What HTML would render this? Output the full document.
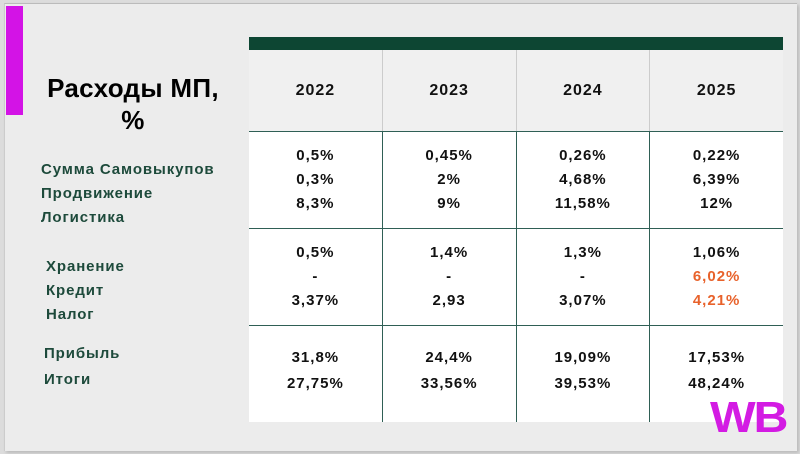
<!DOCTYPE html>
<html><head><meta charset="utf-8"><style>
*{margin:0;padding:0;box-sizing:border-box}
body{width:800px;height:454px;background:#dcdcdc;position:relative;overflow:hidden;font-family:"Liberation Sans","DejaVu Sans",sans-serif}
.slide{position:absolute;left:4px;top:3px;width:793px;height:448px;background:#ececec;border-top:1px solid #bbb;border-left:1px solid #ccc;box-shadow:2px 2px 3px #bbb}
.abs{position:absolute}
.mag{left:6px;top:6px;width:17px;height:109px;background:#d313e6}
.title{left:20px;top:72px;width:226px;text-align:center;font-weight:bold;font-size:26px;letter-spacing:0.3px;line-height:32px;color:#000}
.lbl{color:#1d4a3b;font-weight:bold;font-size:15px;letter-spacing:0.9px;line-height:24px;white-space:nowrap}
.tbl{left:249px;top:37px;width:534px}
.bar{height:13px;background:#0d4633}
.row{display:flex;border-bottom:1px solid #2f5f55}
.row>div{flex:1;border-left:1px solid #2f5f55;display:flex;flex-direction:column;align-items:center;justify-content:center;font-weight:bold;font-size:15px;letter-spacing:1px;line-height:24px;color:#111}
.row>div:first-child{border-left:none}
.hdr{background:#f0f0f0}
.hdr>div{font-size:16px;border-left:1px solid #ccc}
.w{background:#fff}
.o{color:#e8622b}
.wb{left:710px;top:393px;font-size:44px;font-weight:bold;color:#d31be3;letter-spacing:-2px;transform:scaleX(1.1);transform-origin:left}
</style></head><body>
<div class="slide"></div>
<div class="abs mag"></div>
<div class="abs title">Расходы МП,<br>%</div>
<div class="abs lbl" style="left:41px;top:158px">Сумма Самовыкупов<br>Продвижение<br>Логистика</div>
<div class="abs lbl" style="left:46px;top:255px">Хранение<br>Кредит<br>Налог</div>
<div class="abs lbl" style="left:44px;top:341px;line-height:26px">Прибыль<br>Итоги</div>
<div class="abs tbl">
<div class="bar"></div>
<div class="row hdr" style="height:82px"><div>2022</div><div>2023</div><div>2024</div><div>2025</div></div>
<div class="row w" style="height:97px"><div><span>0,5%</span><span>0,3%</span><span>8,3%</span></div><div><span>0,45%</span><span>2%</span><span>9%</span></div><div><span>0,26%</span><span>4,68%</span><span>11,58%</span></div><div><span>0,22%</span><span>6,39%</span><span>12%</span></div></div>
<div class="row w" style="height:97px"><div><span>0,5%</span><span>-</span><span>3,37%</span></div><div><span>1,4%</span><span>-</span><span>2,93</span></div><div><span>1,3%</span><span>-</span><span>3,07%</span></div><div><span>1,06%</span><span class="o">6,02%</span><span class="o">4,21%</span></div></div>
<div class="row w" style="height:96px;border-bottom:none;align-items:stretch"><div style="justify-content:flex-start;padding-top:19px;line-height:26px"><span>31,8%</span><span>27,75%</span></div><div style="justify-content:flex-start;padding-top:19px;line-height:26px"><span>24,4%</span><span>33,56%</span></div><div style="justify-content:flex-start;padding-top:19px;line-height:26px"><span>19,09%</span><span>39,53%</span></div><div style="justify-content:flex-start;padding-top:19px;line-height:26px"><span>17,53%</span><span>48,24%</span></div></div>
</div>
<div class="abs wb">WB</div>
</body></html>
